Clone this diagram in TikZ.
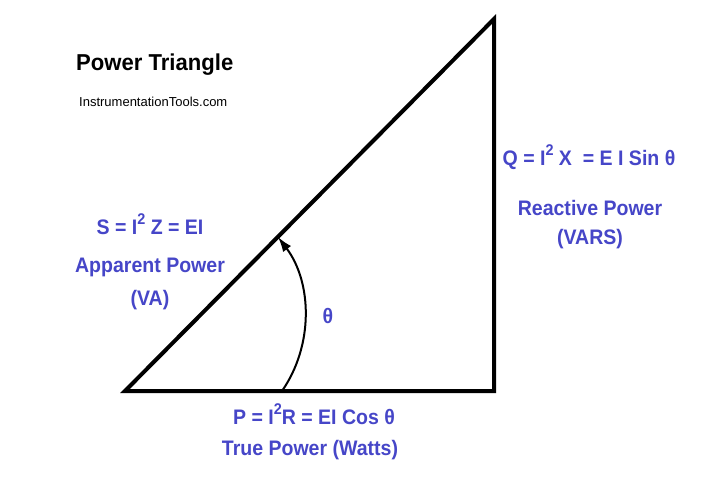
\documentclass[tikz,border=0pt]{standalone}
\usepackage{fontspec}
\setmainfont{Liberation Sans}
\newfontfamily\lblfont{Liberation Sans}[FakeStretch=0.93]
\newfontfamily\titlefont{Liberation Sans}[FakeStretch=0.96]
\usetikzlibrary{arrows.meta}
\definecolor{lblblue}{RGB}{70,70,200}
\newcommand{\sqr}{\raisebox{9.5pt}{\fontsize{15.5}{15.5}\selectfont 2}}
\tikzset{
  side/.style={line width=4pt, line join=miter},
  anglearc/.style={line width=2pt, -{Latex[length=15pt,width=10pt]}},
  bluelbl/.style={text=lblblue, font=\lblfont\fontsize{21}{22}\selectfont\bfseries, inner sep=0pt},
  titlelbl/.style={font=\titlefont\fontsize{23}{24}\selectfont\bfseries, inner sep=0pt, anchor=west},
  sitelbl/.style={font=\fontsize{13}{15}\selectfont, inner sep=0pt, anchor=west}
}
\begin{document}
\begin{tikzpicture}[x=1pt,y=-1pt]
\useasboundingbox (0,0) rectangle (722,477);
\fill[white] (0,0) rectangle (722,477);
\coordinate (A) at (125,391);
\coordinate (B) at (494,391);
\coordinate (C) at (494,19);
\draw[side] (A) -- (B) -- (C) -- cycle;
\coordinate (arcstart) at (282,391);
\coordinate (arcend) at (278,237);
\draw[anglearc] (arcstart) .. controls (314,345) and (312,282) .. (arcend);
\node[titlelbl] (title) at (76,65) {Power Triangle};
\node[sitelbl] (site) at (79,102) {InstrumentationTools.com};
\node[bluelbl, anchor=base] (s) at (150,234) {S = I\sqr\ Z = EI};
\node[bluelbl] (app) at (150,267) {Apparent Power};
\node[bluelbl] (va) at (150,300) {(VA)};
\node[bluelbl] (theta) at (328,316) {θ};
\node[bluelbl, anchor=base] (q) at (589,165) {Q = I\sqr\ X \ = E I Sin θ};
\node[bluelbl] (react) at (590,208) {Reactive Power};
\node[bluelbl] (vars) at (590,239) {(VARS)};
\node[bluelbl, anchor=base] (p) at (314,424) {P = I\sqr R = EI Cos θ};
\node[bluelbl] (true) at (310,450) {True Power (Watts)};
\end{tikzpicture}
\end{document}
